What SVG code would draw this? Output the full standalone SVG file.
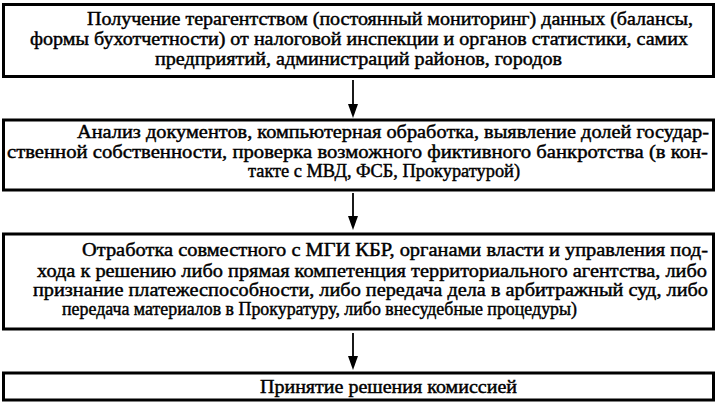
<svg xmlns="http://www.w3.org/2000/svg" width="720" height="403" viewBox="0 0 720 403">
<defs>
<marker id="ah" viewBox="0 0 10 14" refX="5" refY="14" markerWidth="10" markerHeight="14" markerUnits="userSpaceOnUse" orient="auto-start-reverse">
<path d="M0,0 L10,0 L5,14 Z" fill="#000"/>
</marker>
</defs>
<style>
.box{fill:#fff;stroke:#000;stroke-width:3}
.t{font-family:"Liberation Serif","Times New Roman",serif;font-size:19px;fill:#000;stroke:#000;stroke-width:0.45}
.c{stroke:#000;stroke-width:1.8;fill:none}
</style>
<rect width="720" height="403" fill="#fff"/>
<g id="connectors">
<line class="c" x1="353" y1="80" x2="353" y2="104"/>
<path d="M348,104 L358,104 L353,118 Z" fill="#000"/>
<line class="c" x1="353" y1="193" x2="353" y2="216"/>
<path d="M348,216 L358,216 L353,230 Z" fill="#000"/>
<line class="c" x1="353" y1="333" x2="353" y2="356"/>
<path d="M348,356 L358,356 L353,370 Z" fill="#000"/>
</g>
<g id="n1">
<rect class="box" x="3.5" y="4.5" width="710" height="72"/>
<text class="t" x="87" y="25" textLength="606" lengthAdjust="spacingAndGlyphs">Получение терагентством (постоянный мониторинг) данных (балансы,</text>
<text class="t" x="30" y="45" textLength="658" lengthAdjust="spacingAndGlyphs">формы бухотчетности) от налоговой инспекции и органов статистики, самих</text>
<text class="t" x="155" y="65" textLength="407" lengthAdjust="spacingAndGlyphs">предприятий, администраций районов, городов</text>
</g>
<g id="n2">
<rect class="box" x="3.5" y="120" width="710" height="70"/>
<text class="t" x="77" y="138" textLength="632" lengthAdjust="spacingAndGlyphs">Анализ документов, компьютерная обработка, выявление долей государ-</text>
<text class="t" x="7" y="158" textLength="701" lengthAdjust="spacingAndGlyphs">ственной собственности, проверка возможного фиктивного банкротства (в кон-</text>
<text class="t" x="248" y="177" textLength="272" lengthAdjust="spacingAndGlyphs">такте с МВД, ФСБ, Прокуратурой)</text>
</g>
<g id="n3">
<rect class="box" x="3.5" y="234" width="710" height="95"/>
<text class="t" x="82" y="256" textLength="626" lengthAdjust="spacingAndGlyphs">Отработка совместного с МГИ КБР, органами власти и управления под-</text>
<text class="t" x="37" y="277" textLength="670" lengthAdjust="spacingAndGlyphs">хода к решению либо прямая компетенция территориального агентства, либо</text>
<text class="t" x="33" y="296" textLength="675" lengthAdjust="spacingAndGlyphs">признание платежеспособности, либо передача дела в арбитражный суд, либо</text>
<text class="t" x="62" y="315" textLength="515" lengthAdjust="spacingAndGlyphs">передача материалов в Прокуратуру, либо внесудебные процедуры)</text>
</g>
<g id="n4">
<rect class="box" x="3.5" y="373" width="710" height="27"/>
<text class="t" x="260" y="393" textLength="257" lengthAdjust="spacingAndGlyphs">Принятие решения комиссией</text>
</g>
</svg>
